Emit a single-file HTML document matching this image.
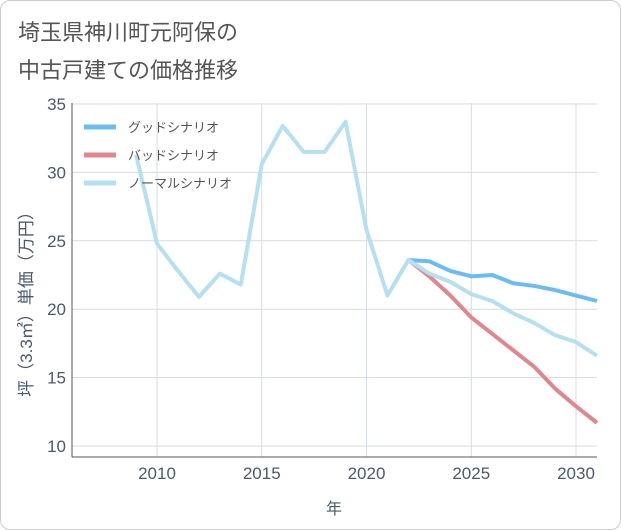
<!DOCTYPE html>
<html><head><meta charset="utf-8"><style>
body{margin:0;background:#fff;font-family:"Liberation Sans","Noto Sans CJK JP",sans-serif;}
#card{position:absolute;left:0;top:0;width:619px;height:528px;border:1px solid #ccc;border-radius:10px;background:#fff;}
</style></head><body>
<div id="card">
<svg id="chart" width="621" height="530" style="position:absolute;left:-1px;top:-1px">
<text x="18" y="40" font-size="22" fill="#555">埼玉県神川町元阿保の</text>
<text x="18" y="78" font-size="22" fill="#555">中古戸建ての価格推移</text>
<g id="grid"></g><g id="series"></g><g id="legend"></g>
<text transform="translate(32,300) rotate(-90)" text-anchor="middle" font-size="17" fill="#4a5a6a">坪（3.3㎡）単価（万円）</text>
<text x="334" y="514" text-anchor="middle" font-size="16" fill="#4a5a6a">年</text>
</svg></div>
<script>
const years=[2009,2010,2011,2012,2013,2014,2015,2016,2017,2018,2019,2020,2021,2022,2023,2024,2025,2026,2027,2028,2029,2030,2031];
const normalVals=[31.3,24.8,22.8,20.9,22.6,21.8,30.6,33.4,31.5,31.5,33.7,25.8,21.0,23.6,22.6,22.0,21.1,20.6,19.7,19.0,18.1,17.6,16.6];
const futureYears=[2022,2023,2024,2025,2026,2027,2028,2029,2030,2031];
const goodVals=[23.6,23.5,22.8,22.4,22.5,21.9,21.7,21.4,21.0,20.6];
const badVals=[23.6,22.4,21.0,19.4,18.2,17.0,15.8,14.2,12.9,11.7];
const yTicks=[10,15,20,25,30,35];
const xTicks=[2010,2015,2020,2025,2030];
const L=72,R=597,T=103,B=457;
const x=v=>157+(v-2010)*20.95;
const y=v=>446-(v-10)*13.68;
const NS="http://www.w3.org/2000/svg";
function mk(tag,parent,attrs){const e=document.createElementNS(NS,tag);for(const k in attrs)e.setAttribute(k,attrs[k]);parent.appendChild(e);return e;}
const g=document.getElementById('grid');
yTicks.forEach(v=>{
 const l=mk('line',g,{x1:L,x2:R,y1:y(v),y2:y(v),stroke:'#d5dce3'});
 
 
 const t=mk('text',g,{x:L-6,y:y(v)+6,'text-anchor':'end','font-size':17,fill:'#4a5a6a'});t.textContent=v;
 
 
});
xTicks.forEach(v=>{
 const l=mk('line',g,{x1:x(v),x2:x(v),y1:T,y2:B,stroke:'#d5dce3'});
 
 
 const t=mk('text',g,{x:x(v),y:B+22,'text-anchor':'middle','font-size':17,fill:'#4a5a6a'});t.textContent=v;
 
 
});
const ya=mk('line',g,{x1:L,x2:L,y1:T,y2:B,stroke:'#555'});


const xa=mk('line',g,{x1:L,x2:R,y1:B,y2:B,stroke:'#555'});


const s=document.getElementById('series');
function line(xs,vs,color,name){
 const p=mk('polyline',s,{points:xs.map((yr,i)=>x(yr)+','+y(vs[i])).join(' '),fill:'none',stroke:color,'stroke-width':4,'stroke-linejoin':'round'});
 
 
}
line(futureYears,badVals,'#e0868e','bad-scenario-line');
line(futureYears,goodVals,'#6bbcf3','good-scenario-line');
line(years,normalVals,'#b6e0ef','normal-scenario-line');
const lg=document.getElementById('legend');
[['グッドシナリオ','#6bbcf3'],['バッドシナリオ','#e0868e'],['ノーマルシナリオ','#b6e0ef']].forEach((e,i)=>{
 const yy=127+i*28;
 const l=mk('line',lg,{x1:84,x2:116,y1:yy,y2:yy,stroke:e[1],'stroke-width':5});
 
 
 const t=mk('text',lg,{x:128,y:yy+5,'font-size':13,fill:'#555'});t.textContent=e[0];
 
 
});
</script>
</body></html>
